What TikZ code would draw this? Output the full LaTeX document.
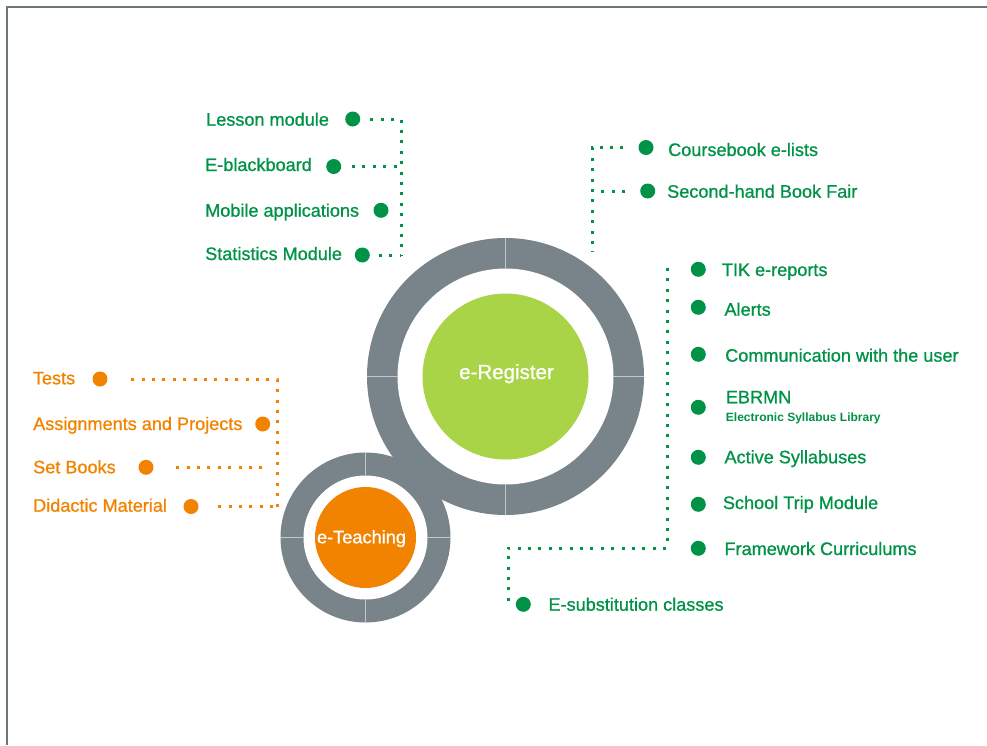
\documentclass[tikz,border=0pt]{standalone}
\usepackage{fontspec}
\setmainfont{Liberation Sans}[BoldFont={Liberation Sans}, BoldFeatures={FakeBold=0.9}]
\newfontfamily\libbold{Liberation Sans Bold}
\definecolor{regreen}{RGB}{0,146,70}
\definecolor{teorange}{RGB}{242,131,0}
\definecolor{reglime}{RGB}{170,212,72}
\definecolor{ringgray}{RGB}{121,131,138}
\definecolor{framegray}{RGB}{108,118,125}
\tikzset{
  glabel/.style={anchor=base west, inner sep=0pt, text=regreen, font=\bfseries\fontsize{18.1}{22}\selectfont},
  olabel/.style={glabel, text=teorange},
  gdot/.style={circle, fill=regreen, minimum size=15pt, inner sep=0pt},
  odot/.style={gdot, fill=teorange},
  gdots/.style={draw=regreen, line width=3pt, dash pattern=on 3pt off 7.4pt},
  odots/.style={gdots, draw=teorange},
  divider/.style={draw=ringgray!45!white, line width=0.8pt}
}
\begin{document}
\begin{tikzpicture}[x=1pt,y=-1pt]
    \useasboundingbox (0,0) rectangle (987,745);
    \draw[framegray, line width=2.3pt] (7,745) -- (7,7.3) -- (987,7.3);
    \fill[ringgray] (505.5,376.5) circle (138.5);
    \fill[ringgray] (365.5,537.5) circle (85);
    \fill[white] (505.5,376.5) circle (108);
    \fill[white] (365.5,537.5) circle (62);
    \fill[reglime] (505.5,376.5) circle (83);
    \fill[teorange] (365.5,537.5) circle (50.5);
    \foreach \a in {0,90,180,270} {
        \draw[divider] (505.5,376.5) ++(\a:108) -- ++(\a:30.5);
        \draw[divider] (365.5,537.5) ++(\a:62) -- ++(\a:23);
    }
    \node[anchor=base, text=white, font=\bfseries\fontsize{20.5}{24}\selectfont] (reg) at (506.5,379) {e-Register};
    \node[anchor=base, text=white, font=\bfseries\fontsize{18.2}{22}\selectfont] (teach) at (361.5,543.3) {e-Teaching};

    \node[glabel] (lesson) at (206,125.7) {Lesson module};
    \node[gdot] (dlesson) at (352.7,119) {};
    \node[glabel] (board) at (205,171) {E-blackboard};
    \node[gdot] (dboard) at (333.7,166.5) {};
    \node[glabel] (mobile) at (205,216.7) {Mobile applications};
    \node[gdot] (dmobile) at (381,210.3) {};
    \node[glabel] (stat) at (205,260) {Statistics Module};
    \node[gdot] (dstat) at (362.3,255) {};
    \coordinate (lsT) at (401,119);
    \coordinate (lsB) at (401,255);
    \draw[gdots, shorten <=10pt] (dlesson.east) -- (lsT) -- (lsB);
    \draw[gdots, shorten <=10.5pt] (dboard.east) -- (lsT |- dboard.east);
    \draw[gdots, shorten <=9pt] (dstat.east) -- (lsB);

    \node[glabel] (course) at (668,156) {Coursebook e-lists};
    \node[gdot] (dcourse) at (646,147.5) {};
    \node[glabel] (fair) at (667,197.7) {Second-hand Book Fair};
    \node[gdot] (dfair) at (647.7,191) {};
    \coordinate (cbT) at (592,147.5);
    \coordinate (cbB) at (592,252);
    \draw[gdots, shorten <=15pt] (dcourse.west) -- (cbT) -- (cbB);
    \draw[gdots, shorten <=15pt, shorten >=8.5pt] (dfair.west) -- (cbT |- dfair.west);

    \node[glabel] (tik) at (721.7,276) {TIK e-reports};
    \node[gdot] (dtik) at (698.3,269.3) {};
    \node[glabel] (alerts) at (724.3,315.7) {Alerts};
    \node[gdot] (dalerts) at (698.3,307.3) {};
    \node[glabel] (comm) at (725,361.7) {Communication with the user};
    \node[gdot] (dcomm) at (698.3,354.3) {};
    \node[glabel] (ebrmn) at (725.7,403.3) {EBRMN};
    \node[glabel, font=\libbold\fontsize{12}{14}\selectfont] (library) at (725.7,421) {Electronic Syllabus Library};
    \node[gdot] (debrmn) at (698.3,407.3) {};
    \node[glabel] (active) at (724.3,463.3) {Active Syllabuses};
    \node[gdot] (dactive) at (698.3,457.3) {};
    \node[glabel] (trip) at (722.7,509) {School Trip Module};
    \node[gdot] (dtrip) at (698.3,504.3) {};
    \node[glabel] (frame) at (724.3,555) {Framework Curriculums};
    \node[gdot] (dframe) at (698.3,548.3) {};
    \node[glabel] (subst) at (548.3,610.7) {E-substitution classes};
    \node[gdot] (dsubst) at (523.3,604.3) {};
    \coordinate (rT) at (667,268);
    \coordinate (rL) at (508,548);
    \draw[gdots, shorten >=7.5pt] (rT) |- (rL) |- (dsubst.west);

    \node[olabel] (tests) at (32.7,384.3) {Tests};
    \node[odot] (dtests) at (100,379) {};
    \node[olabel] (assign) at (33,430) {Assignments and Projects};
    \node[odot] (dassign) at (262.7,424) {};
    \node[olabel] (books) at (33,473.3) {Set Books};
    \node[odot] (dbooks) at (146,467.3) {};
    \node[olabel] (didactic) at (33,511.7) {Didactic Material};
    \node[odot] (ddidactic) at (191,506.5) {};
    \coordinate (tsT) at (277,379);
    \coordinate (tsB) at (277,506.5);
    \draw[odots, shorten <=23.5pt] (dtests.east) -- (tsT) -- (tsB);
    \draw[odots, shorten <=22.5pt, shorten >=15pt] (dbooks.east) -- (tsT |- dbooks.east);
    \draw[odots, shorten <=19.5pt] (ddidactic.east) -- (tsB);
\end{tikzpicture}
\end{document}
